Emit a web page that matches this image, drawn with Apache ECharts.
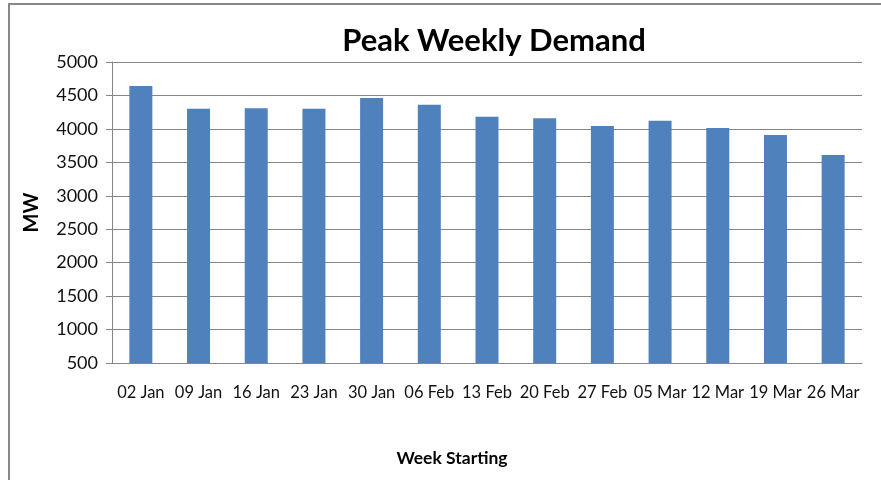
<!DOCTYPE html>
<html>
<head>
<meta charset="utf-8">
<title>Peak Weekly Demand</title>
<script src="https://cdn.jsdelivr.net/npm/echarts@6/dist/echarts.min.js"></script>
<style>
  html, body { margin: 0; padding: 0; background: #fff; }
  #chart { width: 881px; height: 480px; }
</style>
</head>
<body>
<div id="chart"></div>
<script>
// week labels along the bottom
var weeks = ['02 Jan', '09 Jan', '16 Jan', '23 Jan', '30 Jan', '06 Feb', '13 Feb',
             '20 Feb', '27 Feb', '05 Mar', '12 Mar', '19 Mar', '26 Mar'];
// peak demand in MW
var peakMW = [4640, 4300, 4310, 4300, 4460, 4360, 4180, 4160, 4045, 4120, 4015, 3910, 3610];

var chart = echarts.init(document.getElementById('chart'));

var option = {
    backgroundColor: '#fff',
    animation: false,
    title: [{
        text: 'Peak Weekly Demand',
        left: 489,
        top: 20,
        textAlign: 'center',
        textStyle: { fontFamily: 'Lato', fontWeight: 'bold', fontSize: 31, color: '#000' }
    }, {
        // x axis title sits a bit left of the plot centre
        text: 'Week Starting',
        left: 447,
        top: 444,
        textAlign: 'center',
        textStyle: { fontFamily: 'Lato', fontWeight: 'bold', fontSize: 17.5, color: '#000' }
    }],
    graphic: [{
        // outer frame, only top and left show in the picture
        type: 'rect',
        shape: { x: 9, y: 4, width: 900, height: 500 },
        style: { fill: 'none', stroke: '#888', lineWidth: 2 },
        silent: true
    }],
    grid: { left: 112, right: 19, top: 62, bottom: 117 },
    xAxis: {
        type: 'category',
        data: weeks,
        axisLine: { lineStyle: { color: '#868686' } },
        axisTick: { length: 6, lineStyle: { color: '#868686' } },
        axisLabel: { margin: 21, fontFamily: 'Lato', fontSize: 16.5, color: '#111', interval: 0 }
    },
    yAxis: {
        type: 'value',
        name: 'MW',
        nameLocation: 'middle',
        nameGap: 70,
        nameRotate: 90,
        nameTextStyle: { fontFamily: 'Lato', fontWeight: 'bold', fontSize: 20, color: '#000' },
        min: 500,
        max: 5000,
        interval: 500,
        axisLine: { show: true, lineStyle: { color: '#868686' } },
        axisTick: { show: true, length: 6, lineStyle: { color: '#868686' } },
        axisLabel: {
            margin: 14, fontFamily: 'Lato', fontSize: 18, color: '#111',
            formatter: function (v) { return String(v); }
        },
        splitLine: { lineStyle: { color: '#868686' } }
    },
    series: [{
        name: 'Peak Weekly Demand',
        type: 'bar',
        barWidth: 23,
        itemStyle: { color: '#4F81BD' },
        data: peakMW
    }]
};

chart.setOption(option);
</script>
</body>
</html>
